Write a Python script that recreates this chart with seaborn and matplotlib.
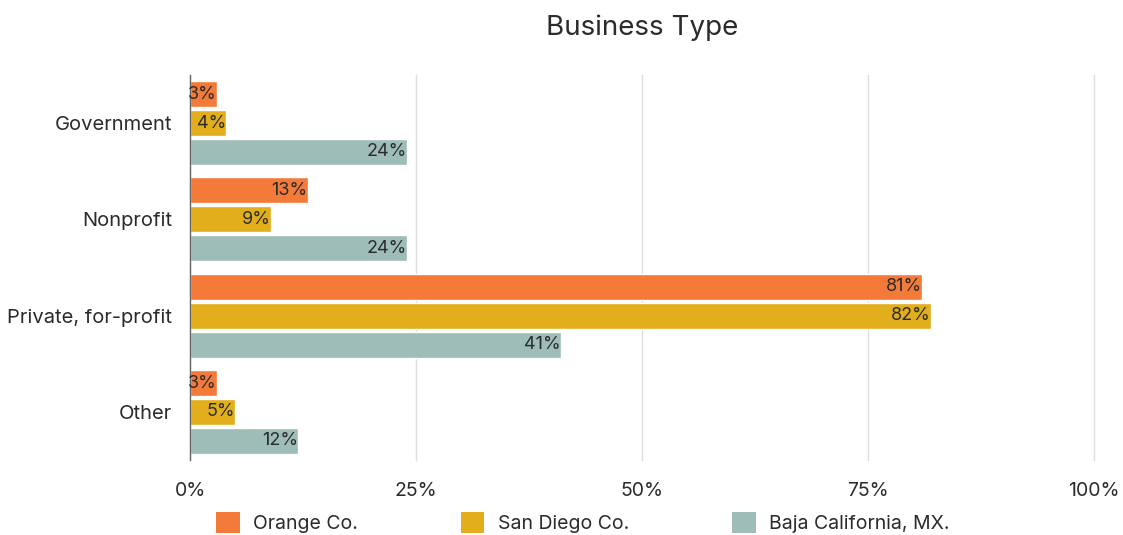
import matplotlib
matplotlib.use("Agg")
import matplotlib.pyplot as plt
from matplotlib.patches import Patch
from matplotlib.ticker import FuncFormatter
import seaborn as sns
import pandas as pd

categories = ["Government", "Nonprofit", "Private, for-profit", "Other"]
series = ["Orange Co.", "San Diego Co.", "Baja California, MX."]
orange_co = [3, 13, 81, 3]
san_diego_co = [4, 9, 82, 5]
baja_california = [24, 24, 41, 12]
colors = ["#F47A3A", "#E2AE1C", "#9EBDB8"]
x_ticks = [0, 25, 50, 75, 100]

rows = []
for name, vals in zip(series, [orange_co, san_diego_co, baja_california]):
    for cat, v in zip(categories, vals):
        rows.append({"category": cat, "series": name, "value": v})
df = pd.DataFrame(rows)

sns.set_theme(style="white")
plt.rcParams["font.family"] = ["Inter", "DejaVu Sans"]
text_color = "#2b2b2b"

fig = plt.figure(figsize=(11.23, 5.35), dpi=100)
ax = fig.add_axes([0.1692, 0.140, 0.805, 0.720])

sns.barplot(data=df, y="category", x="value", hue="series", order=categories,
            hue_order=series, palette=colors, orient="h", width=0.9, gap=0.1,
            saturation=1, legend=False, ax=ax)

# value labels sit just inside the end of each bar
for container in ax.containers:
    labels = [f"{int(round(v))}%" for v in container.datavalues]
    ax.bar_label(container, labels=labels, padding=-0.3, fontsize=13,
                 color=text_color, label_type="edge")
for t in ax.texts:
    t.set_ha("right")

ax.set_xlim(0, 100)
ax.set_ylim(3.5, -0.5)
ax.set_xticks(x_ticks)
ax.xaxis.set_major_formatter(FuncFormatter(lambda v, p: f"{int(v)}%"))
ax.grid(axis="x", color="#dddddd", linewidth=1)
ax.grid(axis="y", visible=False)
for gl in ax.get_xgridlines():
    gl.set_clip_on(False)
ax.set_axisbelow(True)
for s in ["top", "right", "bottom"]:
    ax.spines[s].set_visible(False)
ax.spines["left"].set_color("#666666")
ax.spines["left"].set_linewidth(1)
ax.tick_params(axis="x", length=0, pad=16, labelsize=14, labelcolor=text_color)
ax.tick_params(axis="y", length=0, pad=13, labelsize=14.5, labelcolor=text_color)
ax.set_xlabel("")
ax.set_ylabel("")

fig.text(0.5717, 0.948, "Business Type", ha="center", va="center",
         fontsize=20, color=text_color)

handles = [Patch(facecolor=c, edgecolor="none") for c in colors]
fig.legend(handles, series, loc="center left", bbox_to_anchor=(0.177, 0.024),
           ncol=3, frameon=False, fontsize=14, handlelength=1.2,
           handleheight=1.3, handletextpad=0.7, columnspacing=5.3,
           labelcolor=text_color)

fig.savefig("out.png", dpi=100, facecolor="white")
